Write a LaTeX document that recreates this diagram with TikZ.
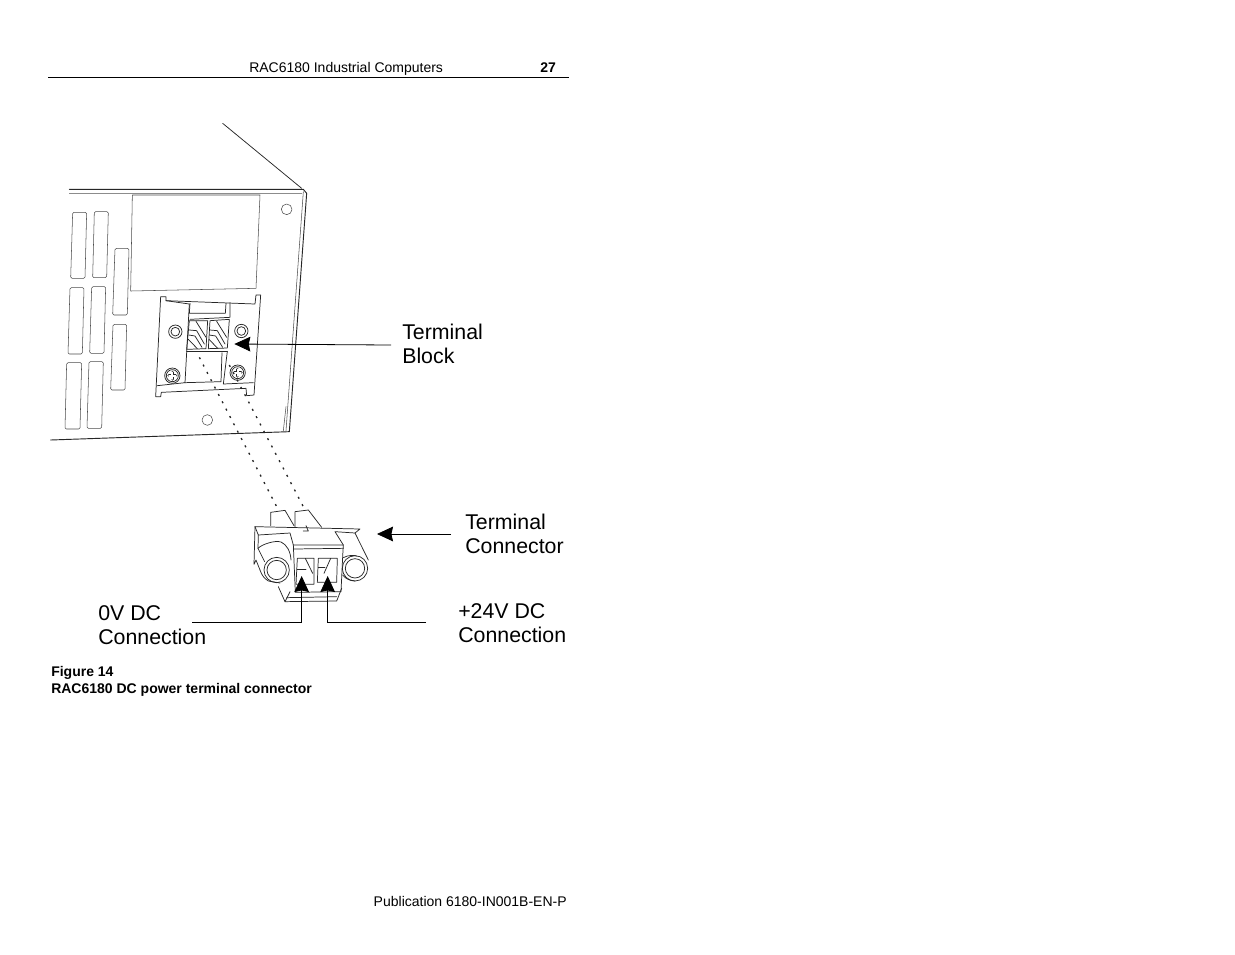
\documentclass[tikz,border=0pt]{standalone}
\usepackage{fontspec}
\setmainfont{Liberation Sans}
\usetikzlibrary{arrows.meta}
\tikzset{
  art/.style={line width=0.55pt,line join=round,line cap=round,draw=black!85},
  thin art/.style={line width=0.4pt,line join=round,line cap=round,draw=black!70},
  lead/.style={line width=0.6pt,draw=black},
  pointer/.style={lead,-{Stealth[length=12pt,width=11pt,inset=1.2pt]}},
  hidden line/.style={line width=1pt,draw=black!85,dash pattern=on 1.5pt off 4.7pt},
  lbl/.style={font=\fontsize{16pt}{18pt}\selectfont,align=left,inner sep=0pt,anchor=west},
  page text/.style={font=\fontsize{10.5pt}{12.6pt}\selectfont,inner sep=0pt},
  cap text/.style={font=\bfseries\fontsize{10.5pt}{12.6pt}\selectfont,inner sep=0pt,align=left,anchor=north west},
  zoomA/.style={shift={(40,110)},x=0.25pt,y=-0.25pt},
  zoomB/.style={shift={(140,280)},x=0.25pt,y=-0.25pt},
  zoomC/.style={shift={(240,495)},x=0.25pt,y=-0.25pt}
}
\begin{document}
\begin{tikzpicture}[x=0.75pt,y=-0.75pt]
\useasboundingbox (0,0) rectangle (1235,954);
\fill[white] (0,0) rectangle (1235,954);
% page furniture
\node[page text,anchor=base west] (head) at (249,72) {RAC6180 Industrial Computers};
\node[page text,font=\bfseries\fontsize{10.5pt}{12.6pt}\selectfont,anchor=base west] (pageno) at (540,72) {27};
\coordinate (ruleL) at (48,77); \coordinate (ruleR) at (569,77);
\draw[line width=0.75pt] (ruleL) -- (ruleR);
\node[cap text] (cap) at (51,666) {Figure 14\\RAC6180 DC power terminal connector};
\node[page text,anchor=base east] (pub) at (567,906) {Publication 6180-IN001B-EN-P};
% chassis
\begin{scope}[zoomA]
\draw[art] (548,40) -- (785,235);
\draw[art,line width=0.7pt] (88,238) -- (790,238) -- (800,250) -- (748,965) -- (32,990);
\draw[thin art,draw=black!45] (88,250) -- (785,250);
\draw[thin art] (790,245) -- (738,962);
\draw[thin art] (277,255) -- (660,255) -- (648,535) -- (272,543) -- cycle;
\draw[thin art] (740,298) circle[radius=16];
\draw[thin art] (502,930) circle[radius=16];
\foreach \a/\b/\c/\d/\e/\f in {
 98/140/135/92/307/505, 163/205/200/158/305/503,
 90/132/127/84/533/732, 155/197/192/149/530/730,
 80/125/120/75/758/957, 147/190/185/141/755/955,
 225/267/262/218/415/615, 219/260/255/212/643/840}
  \draw[thin art,rounded corners=1pt] (\a,\e) -- (\b,\e) -- (\c,\f) -- (\d,\f) -- cycle;
\draw[thin art] (738,890) -- (730,962);
\end{scope}
% terminal block
\begin{scope}[zoomB]
\draw[art] (62,50) -- (78,50) -- (78,62) -- (345,72) -- (348,45) -- (362,45) -- (342,345) -- (320,347) -- (318,325) -- (64,337) -- (62,350) -- (47,350) -- cycle;
\draw[art] (78,62) -- (148,72) -- (135,308) -- (52,317);
\draw[art] (150,70) -- (148,100) -- (256,100) -- (258,70);
\draw[art] (270,68) -- (270,112) -- (150,118);
\draw[art] (148,122) -- (140,208) -- (198,206) -- (203,122) -- cycle;
\draw[art] (210,122) -- (268,118) -- (262,204) -- (205,206) -- cycle;
\foreach \o in {0,62}{
 \begin{scope}[xshift=\o*0.25pt]
  \draw[art] (148,150) -- (170,152) -- (193,192);
  \draw[art] (146,165) -- (165,168) -- (186,202);
  \draw[art] (168,124) -- (198,172);
  \draw[art] (145,178) -- (172,206);
 \end{scope}}
\draw[art] (140,214) -- (262,214);
\draw[art] (135,308) -- (243,305) -- (246,218);
\draw[art] (262,214) -- (250,312) -- (340,308);
\foreach \x/\y in {106/155,304/153}{
  \draw[art] (\x,\y) circle[radius=20];
  \draw[art] (\x,\y) circle[radius=13];}
\foreach \x/\y in {97/287,293/278}{
  \draw[art] (\x,\y) circle[radius=23];
  \draw[art] (\x,\y) circle[radius=18];
  \draw[line width=2.4pt,draw=black!85,line cap=round] (\x-10,\y) -- (\x+10,\y) (\x,\y-10) -- (\x,\y+10);
  \draw[line width=1.3pt,draw=white,line cap=round] (\x-10,\y) -- (\x+10,\y) (\x,\y-10) -- (\x,\y+10);}
\coordinate (d1a) at (178,232);
\coordinate (d2a) at (268,255);
\coordinate (tbtip) at (283,192);
\end{scope}
% terminal connector
\begin{scope}[zoomC]
\draw[art] (92,92) -- (92,52) -- (135,46) -- (162,92);
\draw[art] (165,95) -- (165,50) -- (205,45) -- (245,97);
\draw[art] (190,108) -- (205,108) -- (198,92);
% body top and barrels
\draw[art] (45,95) -- (360,102) -- (345,114) -- (285,110) -- (310,150);
\draw[art] (45,95) -- (55,120) -- (150,114) -- (160,150);
\draw[art] (45,95) -- (42,208) -- (48,195) -- (60,225);
\draw[art] (55,120) -- (54,160);
\draw[art] (54,160) .. controls (65,148) and (105,135) .. (123,141) .. controls (140,148) and (152,170) .. (153,195);
\draw[art] (54,160) -- (74,200);
\draw[art] (60,225) .. controls (65,240) and (72,250) .. (85,258) -- (120,264);
\draw[art] (345,114) -- (385,195);
\draw[art] (310,188) .. controls (325,180) and (340,180) .. (350,183);
\draw[art] (308,240) .. controls (315,250) and (330,258) .. (345,258);
% central face
\draw[art] (160,150) -- (310,150) -- (308,185) -- (303,290) -- (166,292) -- (160,150);
\draw[art] (160,162) -- (310,160);
\draw[art] (172,190) -- (222,190) -- (222,268) -- (168,268) -- cycle;
\draw[art] (235,190) -- (292,190) -- (290,262) -- (232,262) -- cycle;
\draw[art] (196,190) -- (218,235);
\draw[art] (172,222) -- (198,222);
\draw[art] (272,190) -- (252,235);
\draw[art] (235,218) -- (255,218);
\draw[art] (115,275) -- (135,320) -- (290,318) -- (305,280);
\draw[art] (150,290) -- (135,320);
\draw[art] (140,308) -- (290,305);
\draw[art] (110,225) circle[radius=38];
\draw[art] (110,225) circle[radius=29];
\draw[art] (345,220) circle[radius=38];
\draw[art] (345,220) circle[radius=29];
\coordinate (d1b) at (110,35);
\coordinate (d2b) at (190,35);
\coordinate (tip0) at (185,243);
\coordinate (tip24) at (263,243);
\end{scope}
\draw[hidden line] (d1a) -- (d1b);
\draw[hidden line] (d2a) -- (d2b);
% labels
\node[lbl] (tblock) at (402,344) {Terminal\\Block};
\node[lbl] (tconn) at (465,534) {Terminal\\Connector};
\node[lbl] (zero) at (98,625) {0V DC\\Connection};
\node[lbl] (plus) at (458,623) {+24V DC\\Connection};
\coordinate (tbstart) at (391,345);
\coordinate (tcstart) at (451,534);
\coordinate (tctip) at (377,534);
\coordinate (zstart) at (192,622);
\coordinate (pstart) at (426,622);
\draw[pointer] (tbstart) -- (tbtip);
\draw[pointer] (tcstart) -- (tctip);
\draw[pointer] (zstart) -| (tip0);
\draw[pointer] (pstart) -| (tip24);
\end{tikzpicture}
\end{document}
